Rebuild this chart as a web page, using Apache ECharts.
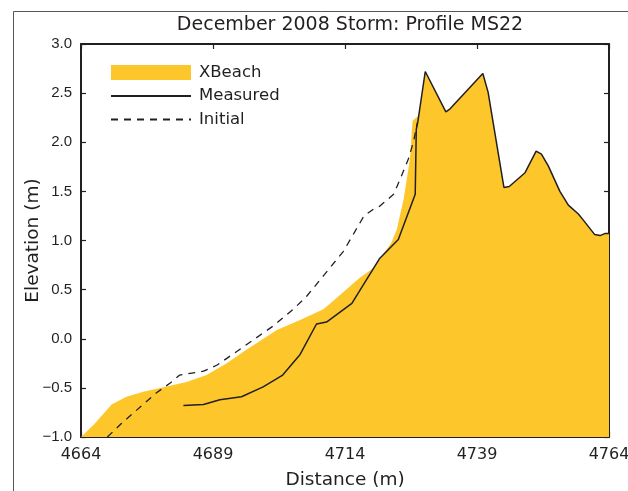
<!DOCTYPE html>
<html>
<head>
<meta charset="utf-8">
<script src="https://cdn.jsdelivr.net/npm/echarts@6/dist/echarts.min.js"></script>
<style>
html,body{margin:0;padding:0;background:#fff;}
#chart{width:628px;height:491px;}
</style>
</head>
<body>
<div id="chart"></div>
<script>
// ---- data ----
var xbeachX = [4664, 4666.5, 4669.8, 4672.6, 4675.8, 4679, 4684, 4687.8, 4691.6, 4695.4, 4701.1, 4705.5, 4709.9, 4711.2, 4716.8, 4719.4, 4722.8, 4723.8, 4725.1, 4726.3, 4726.8, 4727.9, 4728.2, 4729.2, 4733.1, 4733.9, 4740.1, 4741.1, 4744.1, 4745.1, 4748.1, 4750.2, 4751.2, 4752.5, 4754.7, 4756.3, 4758.2, 4759.1, 4761.3, 4762.3, 4763.2, 4764];
var xbeachY = [-1.0, -0.87, -0.67, -0.59, -0.54, -0.50, -0.44, -0.37, -0.25, -0.11, 0.09, 0.19, 0.30, 0.36, 0.62, 0.72, 0.98, 1.11, 1.42, 1.83, 2.22, 2.27, 2.34, 2.72, 2.31, 2.34, 2.70, 2.51, 1.54, 1.55, 1.69, 1.91, 1.88, 1.76, 1.50, 1.36, 1.27, 1.21, 1.06, 1.05, 1.07, 1.07];

var measuredX = [4683.4, 4687.2, 4690.3, 4694.4, 4698.5, 4702.2, 4705.5, 4708.6, 4710.5, 4715.3, 4720.6, 4724.1, 4727.3, 4727.5, 4727.8, 4729.2, 4733.1, 4733.9, 4740.1, 4741.1, 4744.1, 4745.1, 4748.1, 4750.2, 4751.2, 4752.5, 4754.7, 4756.3, 4758.2, 4759.1, 4761.3, 4762.3, 4763.2, 4764];
var measuredY = [-0.68, -0.67, -0.62, -0.59, -0.49, -0.37, -0.16, 0.15, 0.17, 0.36, 0.82, 1.01, 1.47, 2.13, 2.21, 2.72, 2.31, 2.34, 2.70, 2.51, 1.54, 1.55, 1.69, 1.91, 1.88, 1.76, 1.50, 1.36, 1.27, 1.21, 1.06, 1.05, 1.07, 1.07];

var initialX = [4669.0, 4671.7, 4678.3, 4680.9, 4682.7, 4687.2, 4689.7, 4693.5, 4700.4, 4704.2, 4706.7, 4709.9, 4713.7, 4717.6, 4719.4, 4720.6, 4723.2, 4724.4, 4726.0, 4727.0, 4727.7];
var initialY = [-1.0, -0.86, -0.55, -0.45, -0.37, -0.33, -0.27, -0.13, 0.13, 0.30, 0.43, 0.64, 0.89, 1.25, 1.32, 1.35, 1.47, 1.62, 1.83, 2.01, 2.20];

var xTicks = [4664, 4689, 4714, 4739, 4764];
var yTicks = [-1.0, -0.5, 0, 0.5, 1.0, 1.5, 2.0, 2.5, 3.0];

function pairs(xs, ys){ return xs.map(function(x,i){ return [x, ys[i]]; }); }

var ink = '#231f20';
var yellow = '#fdc72b';
var font = 'DejaVu Sans';

var chart = echarts.init(document.getElementById('chart'), null, {renderer:'canvas'});
function axisLine(){ return {show:true, onZero:false, lineStyle:{color:ink, width:2}}; }
function axisTick(){ return {show:true, inside:true, length:5, lineStyle:{color:ink, width:1.2}}; }
var option = {
  backgroundColor:'#fff',
  animation:false,
  title:{
    text:'December 2008 Storm: Profile MS22',
    left:345, textAlign:'center', top:11,
    textStyle:{fontFamily:font, fontSize:19, fontWeight:'normal', color:ink}
  },
  graphic:[{
    type:'rect', silent:true, z:-1,
    shape:{x:13.5, y:11.5, width:700, height:600},
    style:{fill:'none', stroke:'#555', lineWidth:1}
  }],
  legend:{
    orient:'vertical', left:110, top:64, padding:0,
    itemWidth:80, itemHeight:15, itemGap:6.5,
    textStyle:{fontFamily:font, fontSize:16.5, color:ink, padding:[0,0,0,3]},
    data:[
      {name:'XBeach', icon:'rect'},
      {name:'Measured', itemStyle:{opacity:0}},
      {name:'Initial', itemStyle:{opacity:0}}
    ]
  },
  grid:{left:81, right:19, top:44, bottom:54, containLabel:false, outerBoundsMode:'none'},
  xAxis:[{
    type:'value', min:xTicks[0], max:xTicks[xTicks.length-1], interval:25,
    name:'Distance (m)', nameLocation:'middle', nameGap:34, nameMoveOverlap:false,
    nameTextStyle:{fontFamily:font, fontSize:18.5, color:ink},
    axisLine:axisLine(), axisTick:axisTick(),
    axisLabel:{fontFamily:font, fontSize:16, color:ink, margin:10, hideOverlap:false,
      formatter:function(v){ return String(v); }},
    splitLine:{show:false}
  },{
    type:'value', position:'top', min:xTicks[0], max:xTicks[xTicks.length-1], interval:25,
    axisLine:axisLine(), axisTick:axisTick(),
    axisLabel:{show:false}, splitLine:{show:false}
  }],
  yAxis:[{
    type:'value', min:yTicks[0], max:yTicks[yTicks.length-1], interval:0.5,
    name:'Elevation (m)', nameLocation:'middle', nameGap:38, nameRotate:90, nameMoveOverlap:false,
    nameTextStyle:{fontFamily:font, fontSize:18.5, color:ink},
    axisLine:axisLine(), axisTick:axisTick(),
    axisLabel:{fontFamily:'Liberation Sans', fontSize:15, color:ink, margin:9,
      formatter:function(v){ var s = Math.abs(v).toFixed(1); return (v < 0 ? '\u2212' : '') + s; }},
    splitLine:{show:false}
  },{
    type:'value', position:'right', min:yTicks[0], max:yTicks[yTicks.length-1], interval:0.5,
    axisLine:axisLine(), axisTick:axisTick(),
    axisLabel:{show:false}, splitLine:{show:false}
  }],
  series:[{
    name:'XBeach', type:'line', data:pairs(xbeachX, xbeachY),
    symbol:'none', z:1, color:yellow,
    itemStyle:{color:yellow},
    lineStyle:{width:0, color:yellow},
    areaStyle:{color:yellow, opacity:1, origin:'start'}
  },{
    name:'Initial', type:'line', data:pairs(initialX, initialY),
    symbol:'none', z:2, color:ink,
    lineStyle:{color:ink, width:1.3, type:[7,6]}
  },{
    name:'Measured', type:'line', data:pairs(measuredX, measuredY),
    symbol:'none', z:3, color:ink,
    lineStyle:{color:ink, width:1.5}
  }]
};
chart.setOption(option);
</script>
</body>
</html>
